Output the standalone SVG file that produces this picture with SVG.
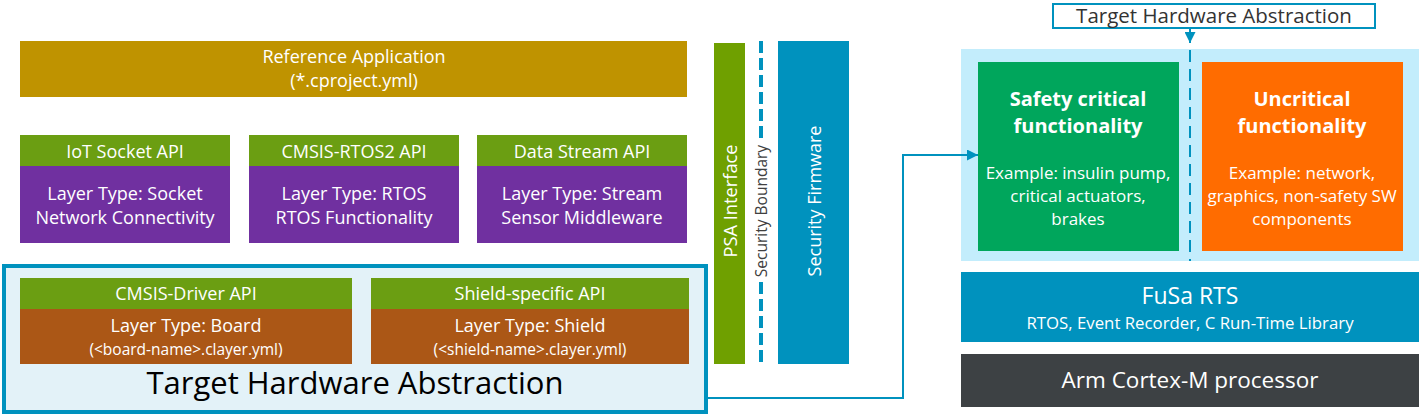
<svg xmlns="http://www.w3.org/2000/svg" width="1421" height="418" viewBox="0 0 1421 418">
<defs>
<style>
text{font-family:"Open Sans","Noto Sans","Liberation Sans",sans-serif;fill:#fff;text-anchor:middle}
.h{font-size:18px}
.b{font-size:18px}
.s{font-size:15.5px}
.green{fill:#6b9e12}
.purple{fill:#7030a0}
.brown{fill:#ab5716}
.blue{fill:#0092be}
.conn{fill:none;stroke:#0092be;stroke-width:2}
</style>
<marker id="arr2" viewBox="0 0 10 10" refX="10" refY="5" markerWidth="11" markerHeight="11" orient="auto" markerUnits="userSpaceOnUse">
<path d="M0,0 L10,5 L0,10 z" fill="#0092be"/>
</marker>
</defs>
<rect width="1421" height="418" fill="#fff"/>

<g id="tha-left">
<rect x="4" y="266" width="702" height="146" fill="#e3f2f8" stroke="#0092be" stroke-width="4"/>
<text x="355" y="394" style="font-size:31px;fill:#000">Target Hardware Abstraction</text>
</g>

<g id="ref-app">
<rect x="20" y="41" width="667" height="56" fill="#bf9300"/>
<text class="h" x="354" y="63">Reference Application</text>
<text class="h" x="354" y="87">(*.cproject.yml)</text>
</g>

<g id="iot-socket">
<rect class="green" x="20" y="135" width="210" height="31"/>
<rect class="purple" x="20" y="166" width="210" height="77"/>
<text class="h" x="125" y="158">IoT Socket API</text>
<text class="b" x="125" y="200">Layer Type: Socket</text>
<text class="b" x="125" y="224">Network Connectivity</text>
</g>

<g id="cmsis-rtos2">
<rect class="green" x="249" y="135" width="210" height="31"/>
<rect class="purple" x="249" y="166" width="210" height="77"/>
<text class="h" x="354" y="158">CMSIS-RTOS2 API</text>
<text class="b" x="354" y="200">Layer Type: RTOS</text>
<text class="b" x="354" y="224">RTOS Functionality</text>
</g>

<g id="data-stream">
<rect class="green" x="477" y="135" width="210" height="31"/>
<rect class="purple" x="477" y="166" width="210" height="77"/>
<text class="h" x="582" y="158">Data Stream API</text>
<text class="b" x="582" y="200">Layer Type: Stream</text>
<text class="b" x="582" y="224">Sensor Middleware</text>
</g>

<g id="cmsis-driver">
<rect class="green" x="20" y="278" width="332" height="31"/>
<rect class="brown" x="20" y="309" width="332" height="55"/>
<text class="h" x="186" y="300">CMSIS-Driver API</text>
<text class="b" x="186" y="332">Layer Type: Board</text>
<text class="s" x="186" y="355">(&lt;board-name&gt;.clayer.yml)</text>
</g>

<g id="shield">
<rect class="green" x="371" y="278" width="318" height="31"/>
<rect class="brown" x="371" y="309" width="318" height="55"/>
<text class="h" x="530" y="300">Shield-specific API</text>
<text class="b" x="530" y="332">Layer Type: Shield</text>
<text class="s" x="530" y="355">(&lt;shield-name&gt;.clayer.yml)</text>
</g>

<g id="psa">
<rect x="714" y="43" width="31" height="321" fill="#6fa000"/>
<text transform="translate(737,201) rotate(-90)" style="font-size:18.3px">PSA Interface</text>
</g>

<g id="security-boundary">
<line x1="761" y1="41" x2="761" y2="139" stroke="#0092be" stroke-width="4" stroke-dasharray="12,5"/>
<line x1="761" y1="282" x2="761" y2="362" stroke="#0092be" stroke-width="4" stroke-dasharray="12,5"/>
<text transform="translate(767,211) rotate(-90)" style="font-size:15.5px;fill:#404040">Security Boundary</text>
</g>

<g id="security-firmware">
<rect class="blue" x="778" y="41" width="71" height="323"/>
<text transform="translate(821,201) rotate(-90)" style="font-size:18px">Security Firmware</text>
</g>

<g id="fusa-panel">
<rect x="961" y="49" width="458" height="212" fill="#c3edfc"/>
</g>

<g id="safety">
<rect x="978" y="62" width="201" height="189" fill="#00a65c"/>
<text x="1078" y="106" style="font-size:20px;font-weight:bold">Safety critical</text>
<text x="1078" y="133" style="font-size:20px;font-weight:bold">functionality</text>
<text x="1078" y="179" style="font-size:17px">Example: insulin pump,</text>
<text x="1078" y="202" style="font-size:17px">critical actuators,</text>
<text x="1078" y="225" style="font-size:17px">brakes</text>
</g>

<g id="uncritical">
<rect x="1202" y="62" width="201" height="189" fill="#ff6c00"/>
<text x="1302" y="106" style="font-size:20px;font-weight:bold">Uncritical</text>
<text x="1302" y="133" style="font-size:20px;font-weight:bold">functionality</text>
<text x="1302" y="179" style="font-size:17px">Example: network,</text>
<text x="1302" y="202" style="font-size:17px">graphics, non-safety SW</text>
<text x="1302" y="225" style="font-size:17px">components</text>
</g>

<g id="tha-label">
<rect x="1053" y="4" width="322" height="24" fill="#fff" stroke="#0092be" stroke-width="2"/>
<text x="1214" y="23" style="font-size:20.5px;fill:#333">Target Hardware Abstraction</text>
</g>

<g id="fusa-rts">
<rect class="blue" x="961" y="272" width="458" height="70"/>
<text x="1190" y="304" style="font-size:23px">FuSa RTS</text>
<text x="1190" y="329" style="font-size:16.8px">RTOS, Event Recorder, C Run-Time Library</text>
</g>

<g id="arm-cortex">
<rect x="961" y="354" width="458" height="53" fill="#3d4144"/>
<text x="1190" y="388" style="font-size:22.5px">Arm Cortex-M processor</text>
</g>

<g id="connectors">
<path class="conn" d="M708,398 H903 V155 H978" marker-end="url(#arr2)"/>
<path class="conn" d="M1190,28 V43" marker-end="url(#arr2)"/>
<line x1="1190" y1="50" x2="1190" y2="261" stroke="#0092be" stroke-width="2" stroke-dasharray="12,7"/>
</g>
</svg>
